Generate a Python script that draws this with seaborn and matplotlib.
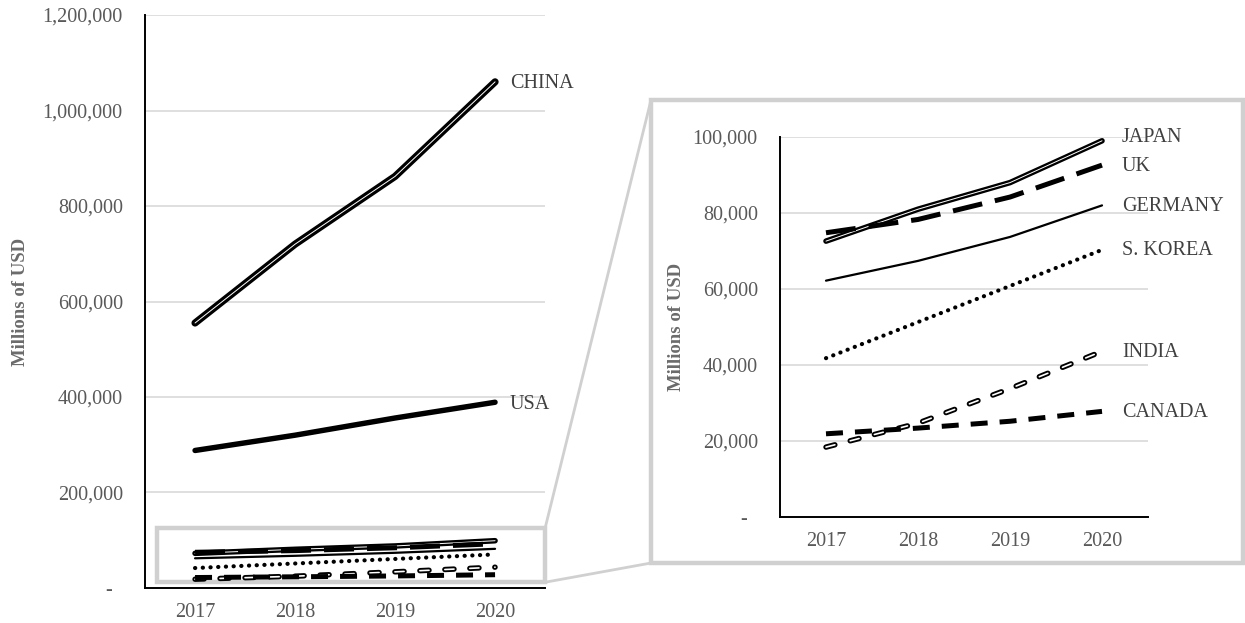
import matplotlib
matplotlib.use("Agg")
import matplotlib.pyplot as plt
import matplotlib.patheffects as pe
from matplotlib.patches import Rectangle, ConnectionPatch
from matplotlib.ticker import FuncFormatter, MultipleLocator
import seaborn as sns

# ---- data (millions of USD) ----
years = [2017, 2018, 2019, 2020]
china = [555000, 720000, 862000, 1060000]
usa = [288000, 320000, 356000, 389000]
japan = [72600, 81000, 88000, 99000]
uk = [74800, 78300, 84200, 92600]
germany = [62200, 67400, 73700, 82000]
s_korea = [41800, 51300, 60800, 70300]
india = [18400, 24700, 33800, 43600]
canada = [21900, 23400, 25200, 27800]

sns.set_theme(style="white")
plt.rcParams["font.family"] = ["Liberation Serif", "DejaVu Serif"]

TICK_COLOR = "#595959"
LABEL_COLOR = "#404040"
GRID_COLOR = "#d9d9d9"
BOX_COLOR = "#d0d0d0"


def double_line(width, inner):
    return dict(color="white", linewidth=inner, solid_capstyle="round",
                path_effects=[pe.Stroke(linewidth=width, foreground="black",
                                        capstyle="round"), pe.Normal()])


styles = {
    "CHINA": double_line(5.2, 0.7),
    "USA": dict(color="black", linewidth=3.9, solid_capstyle="round"),
    "JAPAN": double_line(4.0, 0.7),
    "UK": dict(color="black", linewidth=3.6, linestyle=(0, (6.0, 2.6))),
    "GERMANY": dict(color="black", linewidth=1.6),
    "S. KOREA": dict(color="black", linewidth=3.0, linestyle=(0, (0.05, 1.8)),
                     dash_capstyle="round"),
    "INDIA": dict(color="white", linewidth=1.2, linestyle=(0, (5.5, 9.5)),
                  dash_capstyle="round",
                  path_effects=[pe.Stroke(linewidth=3.9, foreground="black"),
                                pe.Normal()]),
    "CANADA": dict(color="black", linewidth=3.6, linestyle=(0, (3.4, 2.4))),
}

series = {
    "CHINA": china, "USA": usa, "JAPAN": japan, "UK": uk,
    "GERMANY": germany, "S. KOREA": s_korea, "INDIA": india, "CANADA": canada,
}

fig = plt.figure(figsize=(12.45, 6.23), dpi=100)
ax_main = fig.add_axes([0.1165, 0.0562, 0.3213, 0.9197])
ax_zoom = fig.add_axes([0.6265, 0.1701, 0.2956, 0.6100])


def fmt(v, _):
    return "-  " if v == 0 else f"{v:,.0f}"


def style_axes(ax, top, step):
    ax.set_xlim(2016.5, 2020.5)
    ax.set_ylim(0, top)
    ax.set_xticks(years)
    ax.set_xticklabels([str(y) for y in years])
    ax.yaxis.set_major_locator(MultipleLocator(step))
    ax.yaxis.set_major_formatter(FuncFormatter(fmt))
    ax.yaxis.grid(True, color=GRID_COLOR, linewidth=1.2)
    ax.xaxis.grid(False)
    ax.set_axisbelow(True)
    for side in ("top", "right"):
        ax.spines[side].set_visible(False)
    for side in ("left", "bottom"):
        ax.spines[side].set_color("black")
        ax.spines[side].set_linewidth(1.4)
    ax.tick_params(axis="y", length=0, pad=16, labelsize=14.5, labelcolor=TICK_COLOR)
    ax.tick_params(axis="x", length=0, pad=11, labelsize=14.5, labelcolor=TICK_COLOR)
    ax.set_xlabel("")
    ax.set_ylabel("Millions of USD", fontsize=13.5, fontweight="bold", color="#6b6b6b")


# overview panel: every country
for name, vals in series.items():
    sns.lineplot(x=years, y=vals, ax=ax_main, legend=False, sort=False, **styles[name])
style_axes(ax_main, 1200000, 200000)
ax_main.yaxis.set_label_coords(-0.29, 0.5)
for name in ("CHINA", "USA"):
    ax_main.annotate(name, xy=(years[-1], series[name][-1]), xytext=(15, -2),
                     textcoords="offset pixels", va="center", ha="left",
                     fontsize=14.5, color=LABEL_COLOR)

# detail panel: the smaller economies
small = ["JAPAN", "UK", "GERMANY", "S. KOREA", "INDIA", "CANADA"]
for name in small:
    sns.lineplot(x=years, y=series[name], ax=ax_zoom, legend=False, sort=False,
                 **styles[name])
style_axes(ax_zoom, 100000, 20000)
ax_zoom.yaxis.set_label_coords(-0.258, 0.5)
label_shift = {"JAPAN": 3}
for name in small:
    ax_zoom.annotate(name, xy=(years[-1], series[name][-1]),
                     xytext=(20, label_shift.get(name, -1)),
                     textcoords="offset pixels", va="center", ha="left",
                     fontsize=14.5, color=LABEL_COLOR, annotation_clip=False)

# highlight box on the overview and frame around the detail panel
box_x0, box_x1 = 2016.62, 2020.5
box_y0, box_y1 = 12000, 125000
ax_main.add_patch(Rectangle((box_x0, box_y0), box_x1 - box_x0, box_y1 - box_y0,
                            fill=False, edgecolor=BOX_COLOR, linewidth=3.2,
                            clip_on=False, zorder=1))

frame_l, frame_b, frame_r, frame_t = 0.5229, 0.0963, 0.9984, 0.8395
fig.add_artist(Rectangle((frame_l, frame_b), frame_r - frame_l, frame_t - frame_b,
                         transform=fig.transFigure, fill=False,
                         edgecolor=BOX_COLOR, linewidth=3.2))

for yA, yB in ((box_y1, frame_t), (box_y0, frame_b)):
    fig.add_artist(ConnectionPatch(xyA=(box_x1, yA), coordsA=ax_main.transData,
                                   xyB=(frame_l, yB), coordsB=fig.transFigure,
                                   color=BOX_COLOR, linewidth=2.0))

fig.savefig("out.png", dpi=100)
